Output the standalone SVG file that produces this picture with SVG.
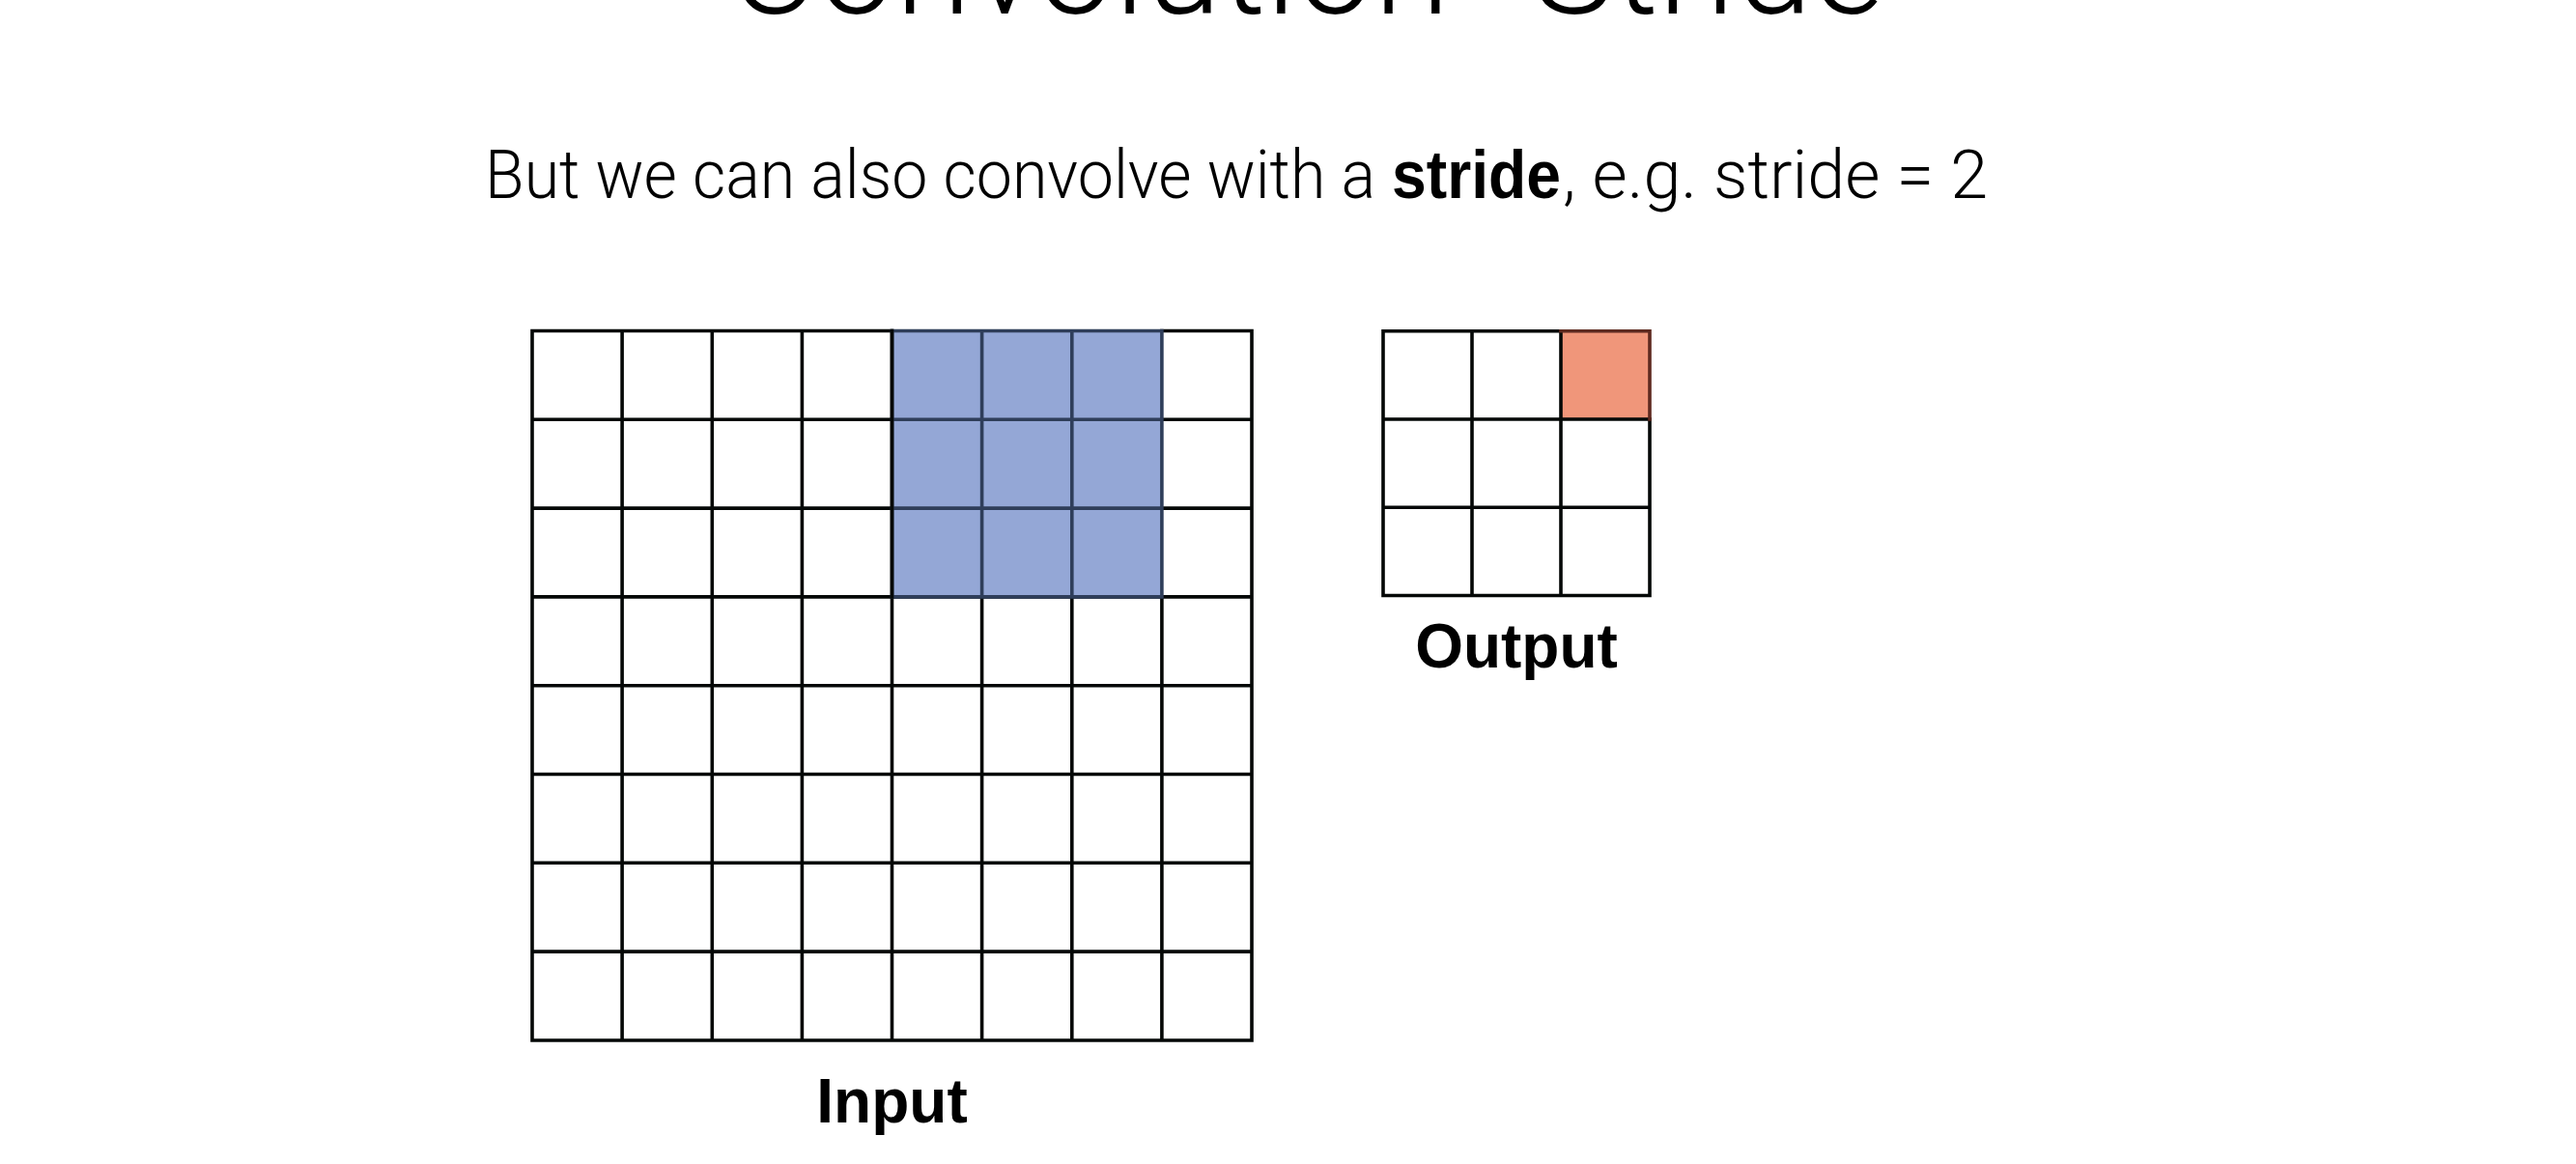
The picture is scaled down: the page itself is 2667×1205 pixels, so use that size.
<svg xmlns="http://www.w3.org/2000/svg" width="2667" height="1205" viewBox="0 0 2667 1205">
  <style>
    .light { font-family: Roboto, "Liberation Sans", Arial, sans-serif; font-weight: 300; fill: #000; }
    .bold { font-family: "Liberation Sans", Arial, sans-serif; font-weight: bold; fill: #000; }
    .grid { fill: none; stroke: #050807; stroke-width: 3.6; stroke-linecap: square; }
    .kgrid { fill: none; stroke: #2f3e5a; stroke-width: 3.6; stroke-linecap: square; }
  </style>
  <rect x="0" y="0" width="2667" height="1205" fill="#ffffff"/>

  <g id="title">
    <text class="light" font-size="143" y="14"><tspan x="754">Convolution</tspan><tspan x="1586">Stride</tspan></text>
  </g>

  <g id="subtitle">
    <text class="light" font-size="71" x="502" y="205" textLength="922" lengthAdjust="spacingAndGlyphs">But we can also convolve with a</text>
    <text class="bold" font-size="71" x="1441" y="205" textLength="175" lengthAdjust="spacingAndGlyphs">stride</text>
    <text class="light" font-size="71" x="1618" y="205" textLength="440" lengthAdjust="spacingAndGlyphs">, e.g. stride = 2</text>
  </g>

  <g id="input">
    <rect x="923.5" y="342.5" width="279.4" height="275.4" fill="#94a7d6"/>
    <path class="grid" d="M551,342.5V1077 M644.1,342.5V1077 M737.3,342.5V1077 M830.4,342.5V1077 M923.5,342.5V1077 M1016.6,617.9V1077 M1109.8,617.9V1077 M1202.9,617.9V1077 M1296,342.5V1077
      M551,342.5H923.5 M1202.9,342.5H1296 M551,434.3H923.5 M1202.9,434.3H1296 M551,526.1H923.5 M1202.9,526.1H1296 M551,617.9H1296 M551,709.7H1296 M551,801.5H1296 M551,893.3H1296 M551,985.1H1296 M551,1077H1296"/>
    <path class="kgrid" d="M923.5,342.5H1202.9 M923.5,434.3H1202.9 M923.5,526.1H1202.9 M923.5,617.9H1202.9 M1016.6,342.5V617.9 M1109.8,342.5V617.9 M1202.9,342.5V617.9"/>
    <path class="grid" d="M923.5,342.5V617.9"/>
    <text class="bold" font-size="64" x="923.5" y="1162" text-anchor="middle">Input</text>
  </g>

  <g id="output">
    <rect x="1616" y="342.7" width="92" height="91.3" fill="#f0967a"/>
    <path class="grid" d="M1432,342.7V616.5 M1524,342.7V616.5 M1616,342.7V616.5 M1708,434V616.5 M1432,342.7H1616 M1432,434H1708 M1432,525.3H1708 M1432,616.5H1708"/>
    <path fill="none" stroke="#5e2a20" stroke-width="3.6" stroke-linecap="square" d="M1616,342.7H1708V434"/>
    <text class="bold" font-size="64" x="1570" y="691" text-anchor="middle">Output</text>
  </g>
</svg>
